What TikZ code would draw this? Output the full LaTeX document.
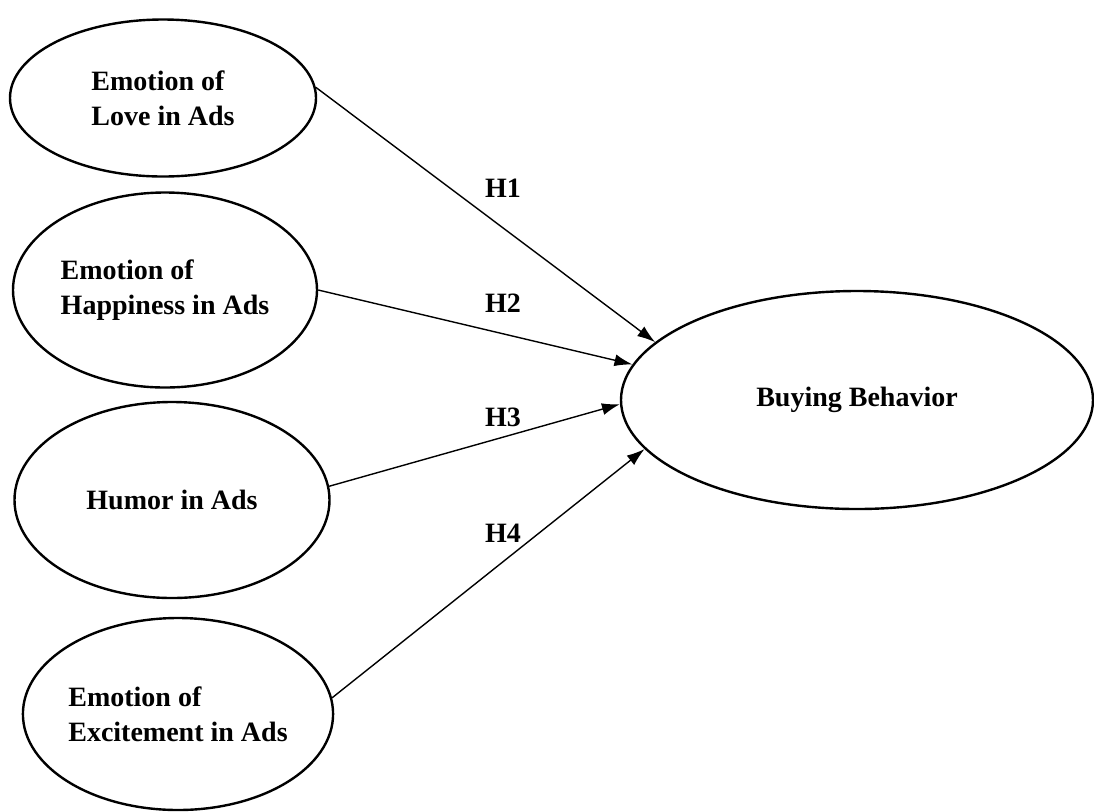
\documentclass[tikz,border=0pt]{standalone}
\usepackage{fontspec}
\setmainfont{Liberation Serif}
\usetikzlibrary{arrows.meta}
\usetikzlibrary{shapes.geometric}
\usetikzlibrary{positioning}

\begin{document}
\begin{tikzpicture}
	[
	x=0.5pt, y=-0.5pt,
  > = {Latex[length=9pt,width=6pt]},
  construct/.style = {draw, line width=1.2pt, ellipse, inner sep=0pt, align=left,
    font=\fontsize{14}{17.5}\selectfont\bfseries},
  hyp/.style = {font=\fontsize{14}{17.5}\selectfont\bfseries},
  path/.style = {->, line width=0.7pt}
  ]
	\useasboundingbox (0,0) rectangle (1094,811);

	% independent constructs
	\node[construct, minimum width=153pt, minimum height=78.5pt] (love) at (163,98) {Emotion of\\Love in Ads};
	\node[construct, minimum width=152pt, minimum height=97.5pt] (happy) at (165,290) {Emotion of\\Happiness in Ads};
	\node[construct, minimum width=157.5pt, minimum height=98pt] (humor) at (172,500) {Humor in Ads};
	\node[construct, minimum width=154.5pt, minimum height=96pt] (excite) at (178,714) {Emotion of\\Excitement in Ads};

	% dependent construct
	\node[construct, minimum width=236pt, minimum height=109pt] (buy) at (857,400) {Buying Behavior};

		\draw[path] (love.4) to (buy.164);
		\draw[path] (happy.0) to (buy.171);
		\draw[path] (humor.5) to (buy.181);
		\draw[path] (excite.6) to (buy.193);

	\node[hyp] (h1) at (503,188) {H1};
	\node[hyp] (h2) at (503,303) {H2};
	\node[hyp] (h3) at (503,417) {H3};
	\node[hyp] (h4) at (503,533) {H4};
	\end{tikzpicture}
\end{document}
